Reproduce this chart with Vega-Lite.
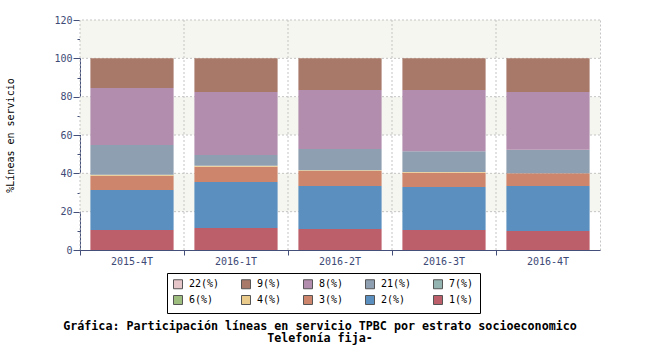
{
  "$schema": "https://vega.github.io/schema/vega-lite/v6.json",
  "width": 520,
  "height": 230,
  "autosize": "none",
  "padding": {"left": 80, "top": 20, "right": 50, "bottom": 100},
  "background": "white",
  "view": {"stroke": "#c4c4c4", "strokeDash": [2, 2]},
  "config": {
    "font": "DejaVu Sans Mono",
    "axis": {"labelFont": "DejaVu Sans Mono", "titleFont": "DejaVu Sans Mono"}
  },
  "title": {
    "text": ["Gráfica: Participación líneas en servicio TPBC por estrato socioeconomico", "Telefonía fija-"],
    "orient": "bottom",
    "anchor": "middle",
    "font": "DejaVu Sans Mono",
    "fontSize": 11.7,
    "fontWeight": "bold",
    "color": "#000000",
    "lineHeight": 12.5,
    "offset": 7,
    "dx": -20
  },
  "datasets": {
    "lineas": [
      {"periodo": "2015-4T", "estrato": "1(%)", "orden": 1, "valor": 10.4},
      {"periodo": "2015-4T", "estrato": "2(%)", "orden": 2, "valor": 20.9},
      {"periodo": "2015-4T", "estrato": "3(%)", "orden": 3, "valor": 7.5},
      {"periodo": "2015-4T", "estrato": "4(%)", "orden": 4, "valor": 0.5},
      {"periodo": "2015-4T", "estrato": "21(%)", "orden": 7, "valor": 15.5},
      {"periodo": "2015-4T", "estrato": "8(%)", "orden": 8, "valor": 29.7},
      {"periodo": "2015-4T", "estrato": "9(%)", "orden": 9, "valor": 15.5},
      {"periodo": "2016-1T", "estrato": "1(%)", "orden": 1, "valor": 11.5},
      {"periodo": "2016-1T", "estrato": "2(%)", "orden": 2, "valor": 24.0},
      {"periodo": "2016-1T", "estrato": "3(%)", "orden": 3, "valor": 8.0},
      {"periodo": "2016-1T", "estrato": "4(%)", "orden": 4, "valor": 0.5},
      {"periodo": "2016-1T", "estrato": "21(%)", "orden": 7, "valor": 5.6},
      {"periodo": "2016-1T", "estrato": "8(%)", "orden": 8, "valor": 32.8},
      {"periodo": "2016-1T", "estrato": "9(%)", "orden": 9, "valor": 17.6},
      {"periodo": "2016-2T", "estrato": "1(%)", "orden": 1, "valor": 11.0},
      {"periodo": "2016-2T", "estrato": "2(%)", "orden": 2, "valor": 22.4},
      {"periodo": "2016-2T", "estrato": "3(%)", "orden": 3, "valor": 7.8},
      {"periodo": "2016-2T", "estrato": "4(%)", "orden": 4, "valor": 0.4},
      {"periodo": "2016-2T", "estrato": "21(%)", "orden": 7, "valor": 11.1},
      {"periodo": "2016-2T", "estrato": "8(%)", "orden": 8, "valor": 30.8},
      {"periodo": "2016-2T", "estrato": "9(%)", "orden": 9, "valor": 16.5},
      {"periodo": "2016-3T", "estrato": "1(%)", "orden": 1, "valor": 10.4},
      {"periodo": "2016-3T", "estrato": "2(%)", "orden": 2, "valor": 22.5},
      {"periodo": "2016-3T", "estrato": "3(%)", "orden": 3, "valor": 7.4},
      {"periodo": "2016-3T", "estrato": "4(%)", "orden": 4, "valor": 0.4},
      {"periodo": "2016-3T", "estrato": "21(%)", "orden": 7, "valor": 10.8},
      {"periodo": "2016-3T", "estrato": "8(%)", "orden": 8, "valor": 32.0},
      {"periodo": "2016-3T", "estrato": "9(%)", "orden": 9, "valor": 16.5},
      {"periodo": "2016-4T", "estrato": "1(%)", "orden": 1, "valor": 9.9},
      {"periodo": "2016-4T", "estrato": "2(%)", "orden": 2, "valor": 23.5},
      {"periodo": "2016-4T", "estrato": "3(%)", "orden": 3, "valor": 6.6},
      {"periodo": "2016-4T", "estrato": "4(%)", "orden": 4, "valor": 0.0},
      {"periodo": "2016-4T", "estrato": "21(%)", "orden": 7, "valor": 12.3},
      {"periodo": "2016-4T", "estrato": "8(%)", "orden": 8, "valor": 30.1},
      {"periodo": "2016-4T", "estrato": "9(%)", "orden": 9, "valor": 17.6}
    ],
    "bandas": [
      {"desde": 100, "hasta": 120},
      {"desde": 60, "hasta": 80},
      {"desde": 20, "hasta": 40}
    ],
    "niveles": [
      {"nivel": 20}, {"nivel": 40}, {"nivel": 60}, {"nivel": 80}, {"nivel": 100}, {"nivel": 120}
    ],
    "periodos": [
      {"periodo": "2015-4T"}, {"periodo": "2016-1T"}, {"periodo": "2016-2T"}, {"periodo": "2016-3T"}, {"periodo": "2016-4T"}
    ]
  },
  "layer": [
    {
      "data": {"name": "bandas"},
      "mark": {"type": "rect", "fill": "#f6f6f1"},
      "encoding": {
        "y": {
          "field": "desde",
          "type": "quantitative",
          "scale": {"domain": [0, 120], "nice": false},
          "axis": {
            "orient": "left",
            "values": [10, 30, 50, 70, 90, 110],
            "labels": false,
            "domain": false,
            "grid": false,
            "tickSize": 3,
            "tickColor": "#44507a",
            "title": null
          }
        },
        "y2": {"field": "hasta"}
      }
    },
    {
      "data": {"name": "niveles"},
      "mark": {"type": "rule", "stroke": "#c4c4c4", "strokeDash": [2, 2]},
      "encoding": {
        "y": {"field": "nivel", "type": "quantitative", "axis": null}
      }
    },
    {
      "data": {"name": "periodos"},
      "mark": {"type": "rule", "stroke": "#c4c4c4", "strokeDash": [2, 2]},
      "encoding": {
        "x": {
          "field": "periodo",
          "type": "nominal",
          "bandPosition": -0.125,
          "scale": {"paddingInner": 0.2, "paddingOuter": 0.1},
          "axis": {
            "title": null,
            "bandPosition": -0.125,
            "labelAngle": 0,
            "labelFontSize": 10,
            "labelColor": "#3e4a76",
            "labelPadding": 1,
            "tickSize": 5,
            "tickColor": "#44507a",
            "domainColor": "#44507a",
            "grid": false
          }
        }
      }
    },
    {
      "data": {"name": "lineas"},
      "mark": {"type": "bar"},
      "encoding": {
        "x": {
          "field": "periodo",
          "type": "nominal",
          "scale": {"paddingInner": 0.2, "paddingOuter": 0.1},
          "axis": {
            "title": null,
            "bandPosition": -0.125,
            "labelAngle": 0,
            "labelFontSize": 10,
            "labelColor": "#3e4a76",
            "labelPadding": 1,
            "tickSize": 5,
            "tickColor": "#44507a",
            "domainColor": "#44507a",
            "grid": false
          }
        },
        "y": {
          "field": "valor",
          "type": "quantitative",
          "stack": "zero",
          "scale": {"domain": [0, 120], "nice": false},
          "axis": {
            "orient": "left",
            "title": "%Líneas en servicio",
            "titleFontSize": 10,
            "titleFontWeight": "normal",
            "titleColor": "#000000",
            "titlePadding": 38,
            "values": [0, 20, 40, 60, 80, 100, 120],
            "labelFontSize": 10,
            "labelColor": "#3e4a76",
            "labelPadding": 1,
            "tickSize": 7,
            "tickColor": "#44507a",
            "domainColor": "#44507a",
            "grid": false
          }
        },
        "color": {
          "field": "estrato",
          "type": "nominal",
          "scale": {
            "domain": ["22(%)", "9(%)", "8(%)", "21(%)", "7(%)", "6(%)", "4(%)", "3(%)", "2(%)", "1(%)"],
            "range": ["#e6c6c8", "#a87968", "#b38dad", "#8e9fb1", "#93b4b0", "#9cbd7e", "#ebcb8c", "#cd866c", "#5b8fbf", "#bd5f6a"]
          },
          "legend": {
            "title": null,
            "orient": "none",
            "legendX": 87,
            "legendY": 253,
            "columns": 5,
            "direction": "horizontal",
            "symbolType": "square",
            "symbolSize": 81,
            "symbolStrokeColor": "#555555",
            "symbolStrokeWidth": 1,
            "symbolOpacity": 1,
            "strokeColor": "#000000",
            "fillColor": "#ffffff",
            "padding": 6,
            "rowPadding": 2,
            "columnPadding": 19,
            "labelFont": "DejaVu Sans Mono",
            "labelFontSize": 10,
            "labelColor": "#000000",
            "labelOffset": 6
          }
        },
        "order": {"field": "orden", "sort": "ascending"}
      }
    }
  ],
  "resolve": {"axis": {"y": "independent"}}
}
